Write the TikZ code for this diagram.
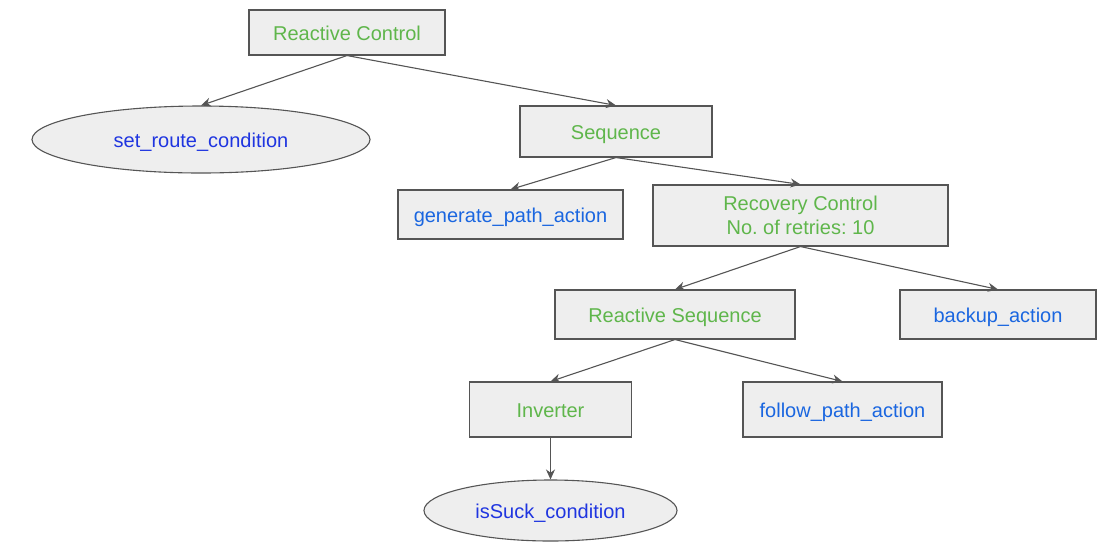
\documentclass[tikz,border=0pt]{standalone}
\usepackage{fontspec}
\setmainfont{Liberation Sans}
\usetikzlibrary{shapes.geometric,arrows.meta}
\frenchspacing
\definecolor{ctrlgreen}{HTML}{5FB64B}
\definecolor{condblue}{HTML}{1F35E0}
\definecolor{actblue}{HTML}{1A66E0}
\definecolor{boxfill}{HTML}{EEEEEE}
\definecolor{edgegray}{HTML}{555555}
\tikzset{
  base/.style={draw=edgegray, fill=boxfill, line width=1.1pt, inner sep=0pt, align=center,
    font=\fontsize{20}{24}\selectfont\frenchspacing, text height=15pt, text depth=0pt},
  ctrl/.style={base, rectangle, text=ctrlgreen},
  act/.style={base, rectangle, text=actblue},
  cond/.style={base, ellipse, text=condblue},
  link/.style={draw=edgegray, line width=1.1pt, -{Stealth[length=10pt,width=9pt]}}
}
\begin{document}
\begin{tikzpicture}[x=1pt,y=-1pt]
\useasboundingbox (0,0) rectangle (1114,558);
\node[ctrl, minimum width=196pt, minimum height=45pt] (rc) at (347,32.5) {Reactive Control};
\node[cond, minimum width=338pt, minimum height=67pt] (src) at (201,139.5) {set\_route\_condition};
\node[ctrl, minimum width=192pt, minimum height=51pt] (seq) at (616,131.5) {Sequence};
\node[act, minimum width=225pt, minimum height=49pt] (gpa) at (510.5,214.5) {generate\_path\_action};
\node[ctrl, minimum width=295pt, minimum height=61pt, text height=38.5pt] (rec) at (800.5,215.5) {Recovery Control\\No. of retries: 10};
\node[ctrl, minimum width=240pt, minimum height=49pt] (rs) at (675,314.5) {Reactive Sequence};
\node[act, minimum width=196pt, minimum height=49pt] (ba) at (998,314.5) {backup\_action};
\node[ctrl, minimum width=162pt, minimum height=55pt] (inv) at (550.5,409.5) {Inverter};
\node[act, minimum width=199pt, minimum height=55pt] (fpa) at (842.5,409.5) {follow\_path\_action};
\node[cond, minimum width=253pt, minimum height=61pt] (isc) at (550.5,510.5) {isSuck\_condition};
\draw[link] (rc.south) -- (src.north);
\draw[link] (rc.south) -- (seq.north);
\draw[link] (seq.south) -- (gpa.north);
\draw[link] (seq.south) -- (rec.north);
\draw[link] (rec.south) -- (rs.north);
\draw[link] (rec.south) -- (ba.north);
\draw[link] (rs.south) -- (inv.north);
\draw[link] (rs.south) -- (fpa.north);
\draw[link] (inv.south) -- (isc.north);
\end{tikzpicture}
\end{document}
